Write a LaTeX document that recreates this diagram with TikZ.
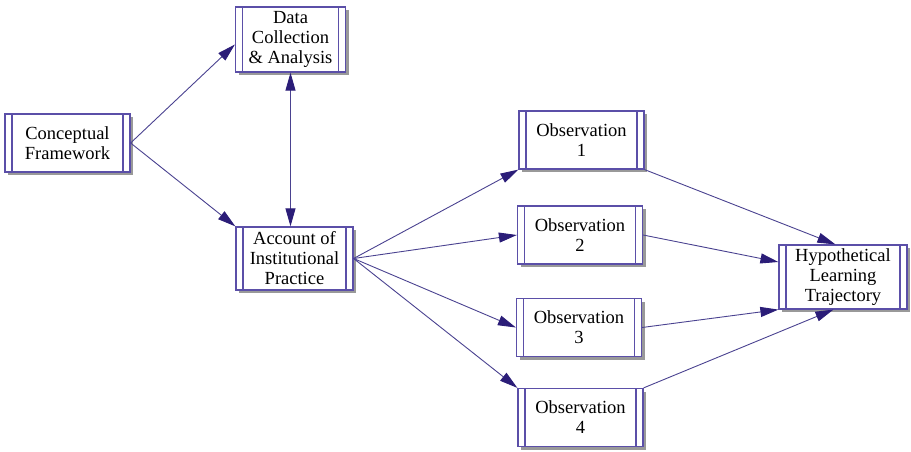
\documentclass[tikz,border=0pt]{standalone}
\usepackage{fontspec}
\setmainfont{Liberation Serif}
\usetikzlibrary{arrows.meta,shadows,calc}
\definecolor{boxline}{HTML}{5B4FA8}
\definecolor{arrline}{HTML}{4A4290}
\definecolor{arrhead}{HTML}{2B1D78}
\begin{document}
\begin{tikzpicture}[x=1pt,y=-1pt,
  procbox/.style={draw=boxline, line width=1.2pt, fill=white, rectangle,
    inner sep=0pt, align=center, font=\fontsize{18.5}{20}\selectfont,
    drop shadow={shadow xshift=3pt, shadow yshift=-3pt, fill=black!40, opacity=1},
    path picture={
      \draw[boxline, line width=1.3pt]
        ([xshift=7pt]path picture bounding box.north west) -- ([xshift=7pt]path picture bounding box.south west)
        ([xshift=-7pt]path picture bounding box.north east) -- ([xshift=-7pt]path picture bounding box.south east);
    }},
  tip/.style={Triangle[length=18pt,width=10pt,fill=arrhead,color=arrhead]},
  conn/.style={draw=arrline, line width=0.9pt, -{Triangle[length=18pt,width=10pt,fill=arrhead,color=arrhead]}},
  conn2/.style={draw=arrline, line width=0.9pt, {Triangle[length=18pt,width=10pt,fill=arrhead,color=arrhead]}-{Triangle[length=18pt,width=10pt,fill=arrhead,color=arrhead]}}
]
\useasboundingbox (0,0) rectangle (911,452);
\node[procbox, minimum width=125pt, minimum height=58pt] (CF) at (67.5,143) {Conceptual\\Framework};
\node[procbox, minimum width=110pt, minimum height=65pt] (DC) at (290.5,39.5) {Data\\Collection\\\& Analysis};
\node[procbox, minimum width=117pt, minimum height=63pt] (AC) at (294.5,258.5) {Account of\\Institutional\\Practice};
\node[procbox, minimum width=125pt, minimum height=58pt] (O1) at (581.5,140) {Observation\\1};
\node[procbox, minimum width=125pt, minimum height=58pt] (O2) at (580,235) {Observation\\2};
\node[procbox, minimum width=125pt, minimum height=58pt] (O3) at (579,327.5) {Observation\\3};
\node[procbox, minimum width=125pt, minimum height=58pt] (O4) at (580.5,417.5) {Observation\\4};
\node[procbox, minimum width=128pt, minimum height=64pt] (HL) at (843,277) {Hypothetical\\Learning\\Trajectory};

\draw[conn] (CF.east) -- ($(DC.west)+(0,5)$);
\draw[conn] (CF.east) -- (AC.north west);
\draw[conn2] (DC.south) -- (DC.south |- AC.north);
\draw[conn] (AC.east) -- (O1.south west);
\draw[conn] (AC.east) -- (O2.west);
\draw[conn] (AC.east) -- (O3.west);
\draw[conn] (AC.east) -- (O4.north west);
\draw[conn] (O1.south east) -- ($(HL.north west)+(57,0)$);
\draw[conn] (O2.east) -- ($(HL.west)+(0,-15)$);
\draw[conn] (O3.east) -- (HL.south west);
\draw[conn] (O4.north east) -- ($(HL.south west)+(55,0)$);
\end{tikzpicture}
\end{document}
